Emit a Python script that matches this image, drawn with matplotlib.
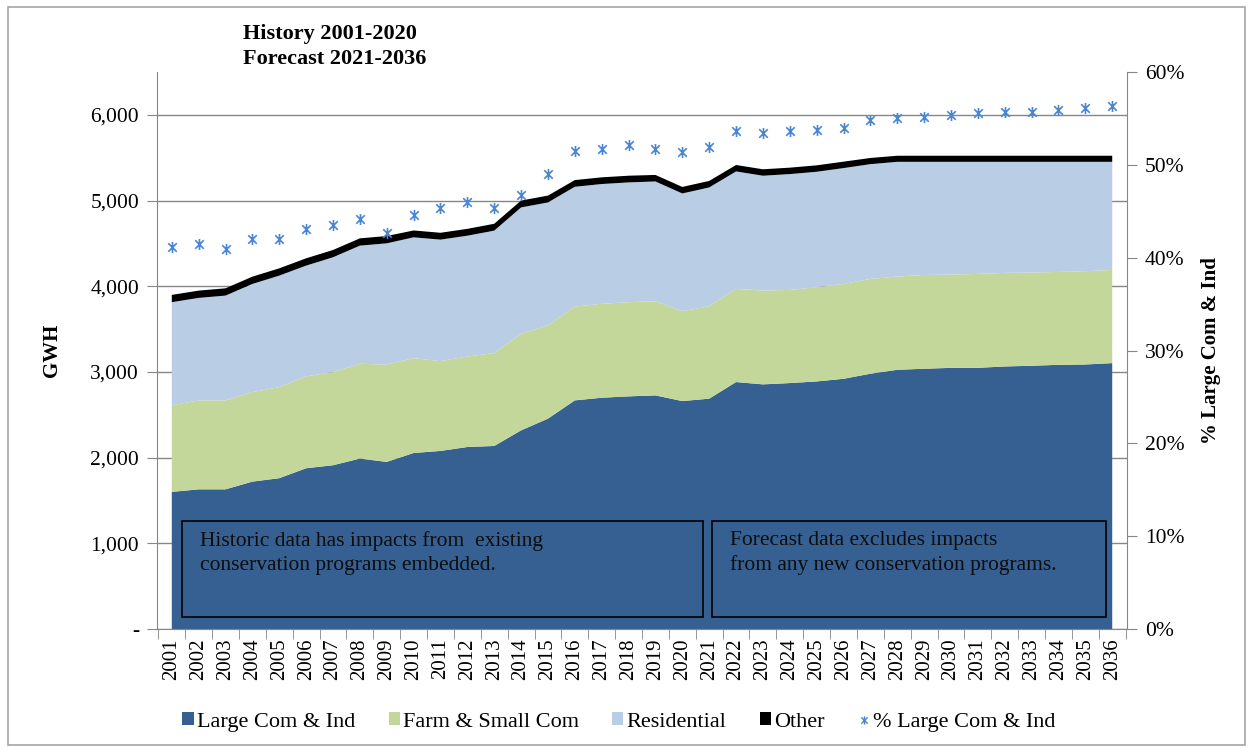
import matplotlib
matplotlib.use("Agg")
import matplotlib.pyplot as plt
from matplotlib.patches import Rectangle, Patch
from matplotlib.lines import Line2D
from matplotlib.path import Path
from matplotlib.ticker import FuncFormatter, FixedLocator

plt.rcParams['font.family'] = ['Liberation Serif', 'DejaVu Serif']

years = [str(y) for y in range(2001, 2037)]

# Werte (GWH)
large_com_ind = [1600, 1630, 1630, 1720, 1760, 1876, 1911, 1989, 1950, 2054,
                 2078, 2124, 2136, 2318, 2455, 2668, 2699, 2715, 2726, 2660,
                 2688, 2882, 2855, 2870, 2889, 2920, 2979, 3025, 3037, 3048,
                 3048, 3064, 3072, 3083, 3087, 3103]
farm_small_com = [1010, 1038, 1038, 1045, 1063, 1072, 1087, 1106, 1137, 1107,
                  1048, 1057, 1083, 1127, 1087, 1095, 1096, 1099, 1099, 1049,
                  1079, 1087, 1095, 1087, 1099, 1107, 1107, 1088, 1095, 1088,
                  1096, 1092, 1088, 1084, 1088, 1088]
residential = [1204, 1196, 1223, 1262, 1301, 1293, 1340, 1379, 1414, 1410,
               1418, 1409, 1430, 1475, 1436, 1398, 1398, 1398, 1398, 1374,
               1386, 1371, 1340, 1352, 1348, 1352, 1339, 1339, 1320, 1316,
               1308, 1296, 1292, 1285, 1277, 1261]
other = [85, 85, 85, 85, 85, 85, 85, 85, 85, 80,
         80, 80, 80, 80, 80, 78, 78, 78, 76, 76,
         76, 75, 75, 75, 75, 75, 72, 71, 71, 71,
         71, 71, 71, 71, 71, 71]
pct_large = [41.1, 41.5, 40.9, 42.0, 42.0, 43.1, 43.5, 44.2, 42.7, 44.6,
             45.3, 46.0, 45.3, 46.8, 49.0, 51.5, 51.7, 52.1, 51.7, 51.4,
             51.9, 53.6, 53.4, 53.6, 53.8, 54.0, 54.8, 55.1, 55.2, 55.4,
             55.6, 55.7, 55.7, 55.9, 56.1, 56.3]

c_large = "#376092"
c_farm = "#C4D79B"
c_res = "#B9CDE5"
c_other = "#000000"
c_pct = "#4A86D4"
c_axis = "#868686"

# Excel-Stern: x plus senkrechter Strich
star = Path([(-1, -1), (1, 1), (-1, 1), (1, -1), (0, -1.3), (0, 1.3)],
            [Path.MOVETO, Path.LINETO, Path.MOVETO, Path.LINETO, Path.MOVETO, Path.LINETO])

fig = plt.figure(figsize=(12.5, 7.48), dpi=100)
fig.patches.append(Rectangle((0.006, 0.004), 0.99, 0.986, transform=fig.transFigure,
                             fill=False, edgecolor="#A6A6A6", linewidth=1.2))
ax = fig.add_axes([0.1256, 0.1591, 0.7760, 0.7446])

x = list(range(len(years)))
ax.stackplot(x, large_com_ind, farm_small_com, residential, other,
             colors=[c_large, c_farm, c_res, c_other], linewidth=0, zorder=2)

ax.set_xlim(-0.55, len(years) - 0.45)
ax.set_ylim(0, 6500)
ax.yaxis.set_major_locator(FixedLocator([0, 1000, 2000, 3000, 4000, 5000, 6000]))
ax.yaxis.set_major_formatter(FuncFormatter(lambda v, p: "-" if v == 0 else f"{int(v):,}"))
ax.grid(True, axis="y", color=c_axis, linewidth=1, zorder=0)
ax.set_axisbelow(True)

ax.set_xticks(x)
ax.set_xticklabels(years, rotation=90, fontsize=15)
ax.set_xticks([i - 0.5 for i in range(len(years) + 1)], minor=True)
ax.tick_params(axis="x", which="major", length=0, pad=7)
ax.tick_params(axis="x", which="minor", length=7, color=c_axis, direction="out")
ax.tick_params(axis="y", length=7, color=c_axis, labelsize=15.5, pad=6)
ax.set_ylabel("GWH", fontsize=15, fontweight="bold", labelpad=20)

for side in ["top", "right"]:
    ax.spines[side].set_visible(False)
for side in ["left", "bottom"]:
    ax.spines[side].set_color(c_axis)

ax2 = ax.twinx()
ax2.plot(x, [p / 100 for p in pct_large], linestyle="none", marker=star,
         markersize=8, markeredgecolor=c_pct, markerfacecolor="none",
         markeredgewidth=1.2, zorder=5)
ax2.set_ylim(0, 0.6)
ax2.yaxis.set_major_locator(FixedLocator([0, 0.1, 0.2, 0.3, 0.4, 0.5, 0.6]))
ax2.yaxis.set_major_formatter(FuncFormatter(lambda v, p: f"{v * 100:.0f}%"))
ax2.tick_params(axis="y", length=7, color=c_axis, labelsize=15.5, pad=6)
ax2.set_ylabel("% Large Com & Ind", fontsize=15, fontweight="bold", labelpad=12)
for side in ["top", "left", "bottom"]:
    ax2.spines[side].set_visible(False)
ax2.spines["right"].set_color(c_axis)

# Textboxen
boxes = [
    (182, 703, "Historic data has impacts from  existing\nconservation programs embedded."),
    (712, 1106, "Forecast data excludes impacts\nfrom any new conservation programs."),
]
for x0, x1, txt in boxes:
    fx0, fx1 = x0 / 1250, x1 / 1250
    fig.patches.append(Rectangle((fx0, 1 - 617 / 748), fx1 - fx0, 96 / 748,
                                 transform=fig.transFigure, fill=False,
                                 edgecolor="black", linewidth=1.2, zorder=10))
    fig.text(fx0 + 18 / 1250, 1 - 531 / 748, txt, fontsize=15.5, va="top",
             ha="left", color="#0D0D0D", linespacing=1.35, zorder=11)

fig.text(243 / 1250, 1 - 24 / 748, "History 2001-2020\nForecast 2021-2036",
         fontsize=16, fontweight="bold", va="top", ha="left", linespacing=1.3)

handles = [
    Patch(facecolor=c_large, edgecolor="none"),
    Patch(facecolor=c_farm, edgecolor="none"),
    Patch(facecolor=c_res, edgecolor="none"),
    Patch(facecolor=c_other, edgecolor="none"),
    Line2D([], [], linestyle="none", marker=star, markersize=6,
           markeredgecolor=c_pct, markeredgewidth=1.0),
]
labels = ["Large Com & Ind", "Farm & Small Com", "Residential", "Other", "% Large Com & Ind"]
fig.legend(handles, labels, loc="center", bbox_to_anchor=(0.495, 1 - 722 / 748),
           ncol=5, frameon=False, fontsize=16, handlelength=0.5, handleheight=0.5,
           handletextpad=0.15, columnspacing=1.5)

fig.savefig("out.png", dpi=100)
